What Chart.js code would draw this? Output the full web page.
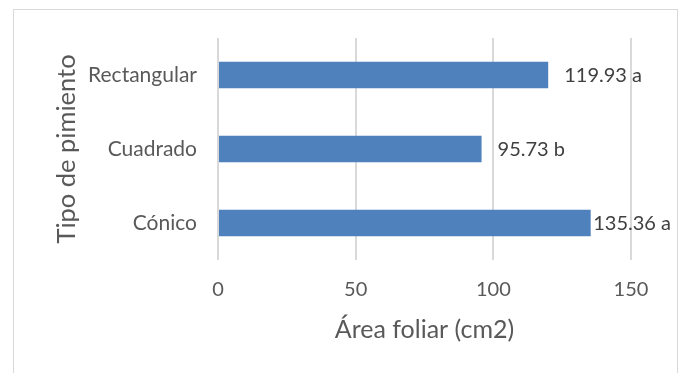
<!DOCTYPE html>
<html>
<head>
<meta charset="utf-8">
<script src="https://cdn.jsdelivr.net/npm/chart.js@4/dist/chart.umd.min.js"></script>
<style>
  html, body { margin: 0; padding: 0; background: #fff; }
  #wrap { position: relative; width: 683px; height: 373px; }
</style>
</head>
<body>
<div id="wrap"><canvas id="chart" width="683" height="373"></canvas></div>
<script>
'use strict';

// Data
const categories = ['Rectangular', 'Cuadrado', 'Cónico'];
const areaValues = [119.93, 95.73, 135.36];
const letters    = ['a', 'b', 'a'];
const xTicks     = [0, 50, 100, 150];

const FONT = 'Lato, "Open Sans", sans-serif';
const TEXT = '#595959';
const PAD_LEFT = 51;

// light grey frame around the whole chart, as in the spreadsheet export
const frame = {
  id: 'frame',
  beforeDraw(chart) {
    const c = chart.ctx;
    c.save();
    c.fillStyle = '#fff';
    c.fillRect(0, 0, chart.width, chart.height);
    c.strokeStyle = '#d9d9d9';
    c.lineWidth = 1;
    c.strokeRect(13.5, 9.5, 664, 400);
    c.restore();
  }
};

// value + significance letter at the end of each bar
const barLabels = {
  id: 'barLabels',
  afterDatasetsDraw(chart) {
    const c = chart.ctx;
    const meta = chart.getDatasetMeta(0);
    c.save();
    c.font = '20px ' + FONT;
    c.fillStyle = '#404040';
    c.textBaseline = 'middle';
    meta.data.forEach((bar, i) => {
      const txt = areaValues[i].toFixed(2) + ' ' + letters[i];
      const w = c.measureText(txt).width;
      let x = Math.min(bar.x + 16, 671 - w);
      x = Math.max(x, bar.x + 1);
      c.fillText(txt, x, bar.y + 1);
    });
    c.restore();
  }
};

new Chart(document.getElementById('chart'), {
  type: 'bar',
  data: {
    labels: categories,
    datasets: [{
      data: areaValues,
      backgroundColor: '#4f81bd',
      borderWidth: 0,
      categoryPercentage: 1,
      barPercentage: 0.355
    }]
  },
  plugins: [frame, barLabels],
  options: {
    indexAxis: 'y',
    responsive: false,
    animation: false,
    layout: { padding: { top: 38, right: 52, left: PAD_LEFT, bottom: 28 } },
    plugins: { legend: { display: false }, tooltip: { enabled: false } },
    scales: {
      x: {
        min: 0,
        max: 150,
        afterBuildTicks: s => { s.ticks = xTicks.map(v => ({ value: v })); },
        afterFit: s => { s.height = 85; },
        grid: { color: '#d9d9d9', lineWidth: 2, drawTicks: false },
        border: { display: false },
        ticks: { padding: 18, color: TEXT, font: { family: FONT, size: 20 } },
        title: {
          display: true,
          text: 'Área foliar (cm2)',
          color: TEXT,
          padding: 0,
          font: { family: FONT, size: 25 }
        }
      },
      y: {
        afterFit: s => { s.width = 218 - PAD_LEFT; },
        grid: { display: false, drawTicks: false },
        border: { display: false },
        ticks: { padding: 21, color: TEXT, font: { family: FONT, size: 21 } },
        title: {
          display: true,
          text: 'Tipo de pimiento',
          color: TEXT,
          padding: 0,
          font: { family: FONT, size: 25.5 }
        }
      }
    }
  }
});
</script>
</body>
</html>
